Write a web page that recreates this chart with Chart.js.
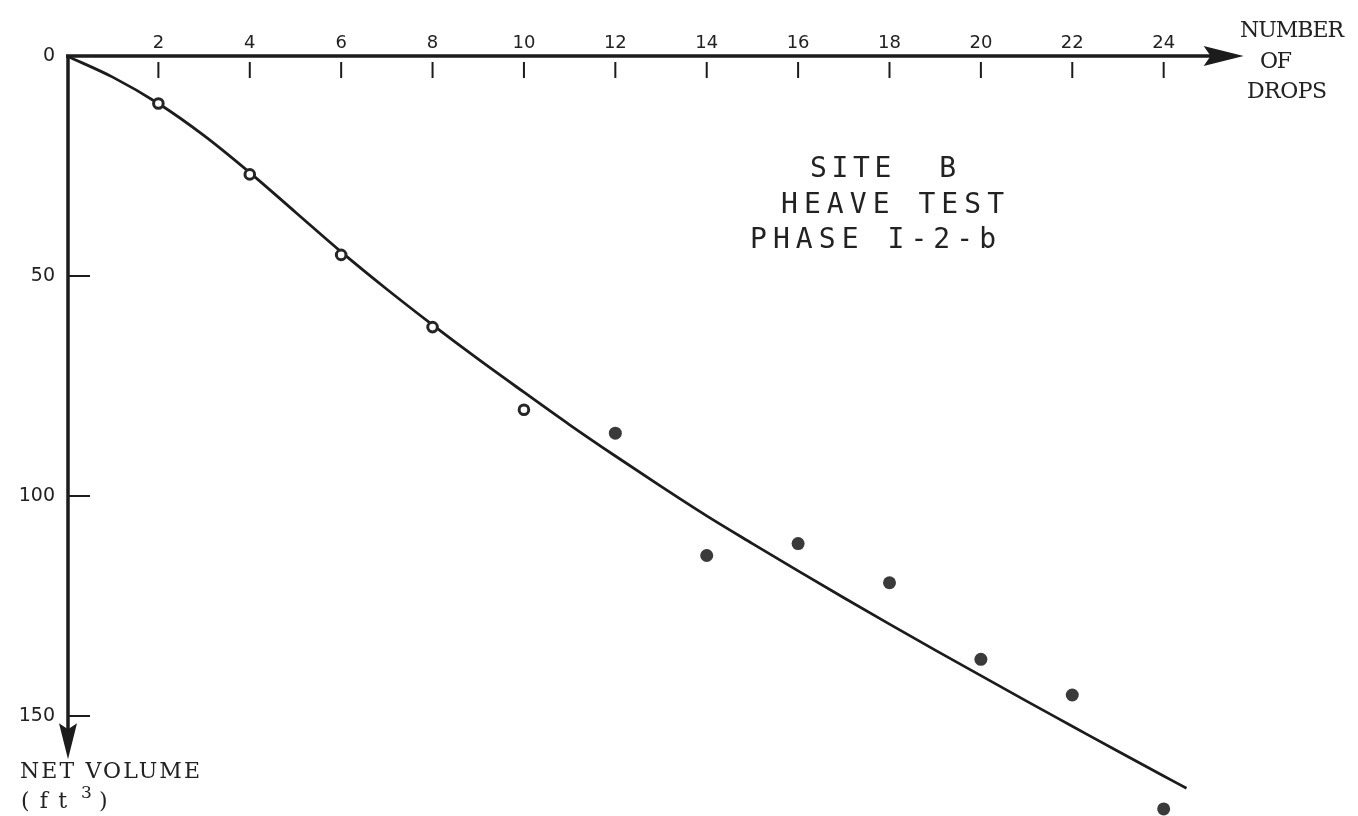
<!DOCTYPE html>
<html>
<head>
<meta charset="utf-8">
<title>Site B Heave Test - Phase I-2-b</title>
<script src="https://cdn.jsdelivr.net/npm/chart.js@4.4.1/dist/chart.umd.min.js"></script>
<style>
  html, body { margin: 0; padding: 0; background: #fff; }
  #wrap { width: 1358px; height: 816px; }
</style>
</head>
<body>
<div id="wrap"><canvas id="chart" width="1358" height="816"></canvas></div>
<script>
// drops at which a reading was taken
const drops = [2, 4, 6, 8, 10, 12, 14, 16, 18, 20, 22, 24];
// net volume (ft^3)
const netVolume = [10.8, 26.9, 45.2, 61.6, 80.4, 85.7, 113.5, 110.8, 119.7, 137.1, 145.2, 171.1];
// open circle or solid dot, as plotted
const markerKind = ['open', 'open', 'open', 'open', 'open',
    'solid', 'solid', 'solid', 'solid', 'solid', 'solid', 'solid'];

// the hand-drawn trend curve
const curveDrops = [0, 1, 2, 3, 4, 5, 6, 7, 8, 9, 10, 11, 12, 13, 14, 15, 16, 17, 18, 19, 20, 21, 22, 23, 24, 24.5];
const curveVolume = [0, 4.8, 10.8, 18.1, 26.5, 35.5, 44.5, 53.0, 61.1, 68.9, 76.4, 83.8, 90.9, 97.8,
    104.5, 110.8, 117.0, 123.1, 129.1, 135.0, 140.8, 146.6, 152.3, 158.0, 163.6, 166.4];

const xTicks = [2, 4, 6, 8, 10, 12, 14, 16, 18, 20, 22, 24];
const yTicks = [0, 50, 100, 150];

// where the drawn axes stop (arrow tips), in axis units
const xAxisEnd = 25.75;
const yAxisEnd = 159.8;

const INK = '#1c1c1c';

// draw a typed string stretched to a given ink width
function typed(ctx, text, x, y, width) {
    ctx.letterSpacing = '0px';
    const w = ctx.measureText(text).width;
    const n = Math.max(text.length - 1, 1);
    ctx.letterSpacing = ((width - w) / n).toFixed(2) + 'px';
    ctx.fillText(text, x, y);
    ctx.letterSpacing = '0px';
}

// axes with arrowheads, inward tick marks and the typed labels
const handDrawn = {
    id: 'handDrawn',
    beforeDatasetsDraw: function(chart) {
        const ctx = chart.ctx;
        const x = chart.scales.x, y = chart.scales.y;
        const x0 = x.getPixelForValue(0), y0 = y.getPixelForValue(0);
        const xEnd = x.getPixelForValue(xAxisEnd), yEnd = y.getPixelForValue(yAxisEnd);

        ctx.save();
        ctx.strokeStyle = INK;
        ctx.fillStyle = INK;
        ctx.lineWidth = 3.5;
        ctx.beginPath();
        ctx.moveTo(x0 - 1, y0);
        ctx.lineTo(xEnd - 30, y0);
        ctx.moveTo(x0 + 1, y0 - 1);
        ctx.lineTo(x0 + 1, yEnd - 25);
        ctx.stroke();

        // arrowheads
        ctx.beginPath();
        ctx.moveTo(xEnd, y0);
        ctx.lineTo(xEnd - 40, y0 - 10);
        ctx.lineTo(xEnd - 33, y0);
        ctx.lineTo(xEnd - 40, y0 + 10);
        ctx.closePath();
        ctx.fill();
        ctx.beginPath();
        ctx.moveTo(x0 + 1, yEnd);
        ctx.lineTo(x0 - 8, yEnd - 36);
        ctx.lineTo(x0 + 1, yEnd - 30);
        ctx.lineTo(x0 + 10, yEnd - 36);
        ctx.closePath();
        ctx.fill();

        // tick marks point into the plot
        ctx.lineWidth = 2;
        ctx.beginPath();
        xTicks.forEach(function(v) {
            const px = x.getPixelForValue(v);
            ctx.moveTo(px, y0 + 6);
            ctx.lineTo(px, y0 + 22);
        });
        yTicks.slice(1).forEach(function(v) {
            const py = y.getPixelForValue(v);
            ctx.moveTo(x0 + 2, py);
            ctx.lineTo(x0 + 23, py);
        });
        ctx.stroke();
        ctx.restore();
    },
    afterDraw: function(chart) {
        const ctx = chart.ctx;
        ctx.save();
        ctx.fillStyle = '#222';
        ctx.textAlign = 'left';
        ctx.textBaseline = 'alphabetic';

        // title block (lettering guide style)
        ctx.font = '28px "DejaVu Sans Mono"';
        typed(ctx, 'SITE  B', 810, 177, 146);
        typed(ctx, 'HEAVE TEST', 781, 213, 223);
        typed(ctx, 'PHASE I-2-b', 750, 248, 246);

        // typed axis titles
        ctx.font = '22px "DejaVu Serif"';
        typed(ctx, 'NUMBER', 1240, 37, 104);
        typed(ctx, 'OF', 1260, 68, 32);
        typed(ctx, 'DROPS', 1247, 98, 80);

        typed(ctx, 'NET VOLUME', 20, 778, 180);
        typed(ctx, '(ft', 21, 808, 46);
        ctx.font = '17px "DejaVu Serif"';
        ctx.fillText('3', 81, 798);
        ctx.font = '22px "DejaVu Serif"';
        ctx.fillText(')', 99, 808);
        ctx.restore();
    }
};

new Chart(document.getElementById('chart'), {
    type: 'scatter',
    data: {
        datasets: [
            {
                label: 'Net volume',
                data: drops.map(function(d, i) { return { x: d, y: netVolume[i] }; }),
                pointRadius: function(c) { return markerKind[c.dataIndex] === 'open' ? 4.8 : 6.5; },
                pointBorderWidth: function(c) { return markerKind[c.dataIndex] === 'open' ? 3 : 0; },
                pointBackgroundColor: function(c) { return markerKind[c.dataIndex] === 'open' ? '#fff' : '#3a3a3a'; },
                pointBorderColor: '#262626',
                clip: false
            },
            {
                type: 'line',
                label: 'Trend',
                data: curveDrops.map(function(d, i) { return { x: d, y: curveVolume[i] }; }),
                borderColor: INK,
                borderWidth: 2.8,
                pointRadius: 0,
                cubicInterpolationMode: 'monotone',
                fill: false,
                clip: false
            }
        ]
    },
    options: {
        responsive: false,
        animation: false,
        devicePixelRatio: 1,
        layout: { autoPadding: false, padding: { left: 0, top: 0, right: 113, bottom: 0 } },
        plugins: {
            legend: { display: false },
            tooltip: { enabled: false }
        },
        scales: {
            x: {
                type: 'linear',
                position: 'top',
                min: 0,
                max: 25.78,
                grid: { display: false, drawTicks: false },
                border: { display: false },
                afterBuildTicks: function(s) { s.ticks = xTicks.map(function(v) { return { value: v }; }); },
                afterFit: function(s) { s.height = 56; s.paddingLeft = 0; s.paddingRight = 0; },
                ticks: {
                    padding: 2,
                    autoSkip: false,
                    maxRotation: 0,
                    color: '#222',
                    font: { family: '"DejaVu Sans"', size: 18 }
                }
            },
            y: {
                type: 'linear',
                position: 'left',
                reverse: true,
                min: 0,
                max: 172.7,
                grid: { display: false, drawTicks: false },
                border: { display: false },
                afterBuildTicks: function(s) { s.ticks = yTicks.map(function(v) { return { value: v }; }); },
                afterFit: function(s) { s.width = 67; s.paddingTop = 0; s.paddingBottom = 0; },
                ticks: {
                    padding: 12,
                    color: '#222',
                    font: { family: '"DejaVu Sans"', size: 19 }
                }
            }
        }
    },
    plugins: [handDrawn]
});
</script>
</body>
</html>
